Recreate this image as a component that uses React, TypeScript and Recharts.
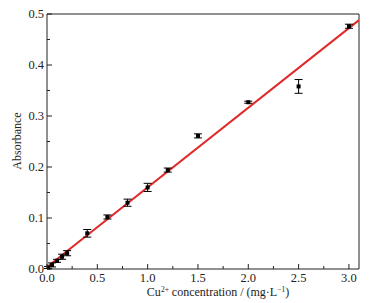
import {
  ComposedChart,
  Scatter,
  Line,
  XAxis,
  YAxis,
  ErrorBar,
  ReferenceLine,
} from "recharts";

// concentration (mg/L), absorbance, error (±)
const concentrations = [0.01, 0.05, 0.1, 0.15, 0.2, 0.4, 0.6, 0.8, 1.0, 1.2, 1.5, 2.0, 2.5, 3.0];
const absorbances = [0.003, 0.008, 0.016, 0.024, 0.031, 0.07, 0.102, 0.13, 0.16, 0.194, 0.261, 0.327, 0.358, 0.476];
const errors = [0.002, 0.004, 0.003, 0.005, 0.005, 0.0075, 0.004, 0.007, 0.008, 0.004, 0.004, 0.002, 0.0135, 0.004];

// fitted line end points
const fitX = [0, 3.1];
const fitY = [0.004, 0.488];

const xTicks = [0, 0.25, 0.5, 0.75, 1, 1.25, 1.5, 1.75, 2, 2.25, 2.5, 2.75, 3];
const yTicks = [0, 0.05, 0.1, 0.15, 0.2, 0.25, 0.3, 0.35, 0.4, 0.45, 0.5];

const points = concentrations.map((c, i) => ({ x: c, y: absorbances[i], err: errors[i] }));
const fit = fitX.map((x, i) => ({ x, fy: fitY[i] }));

const FONT = "'Liberation Serif', 'Times New Roman', serif";
const AXIS = "#222";

const isMajor = (v: number, step: number) => Math.abs(v / step - Math.round(v / step)) < 1e-6;

function XTick(props: any) {
  const { x, y, payload } = props;
  const major = isMajor(payload.value, 0.5);
  const axisY = y - 4;
  return (
    <g>
      <line x1={x} x2={x} y1={axisY} y2={axisY - (major ? 5 : 3)} stroke={AXIS} />
      {major && (
        <text x={x} y={axisY + 13} textAnchor="middle" fontSize={12.5} fontFamily={FONT} fill="#222">
          {payload.value.toFixed(1)}
        </text>
      )}
    </g>
  );
}

function YTick(props: any) {
  const { x, y, payload } = props;
  const major = isMajor(payload.value, 0.1);
  const axisX = x + 3;
  return (
    <g>
      <line x1={axisX} x2={axisX + (major ? 5 : 3)} y1={y} y2={y} stroke={AXIS} />
      {major && (
        <text x={axisX - 3} y={y + 3.5} textAnchor="end" fontSize={12.5} fontFamily={FONT} fill="#222">
          {payload.value.toFixed(1)}
        </text>
      )}
    </g>
  );
}

const Square = (props: any) => {
  const { cx, cy } = props;
  return <rect x={cx - 2} y={cy - 2} width={4} height={4} fill="#000" />;
};

export default function App() {
  return (
    <div style={{ position: "absolute", left: 0, top: 0, background: "#fff" }}>
      <ComposedChart width={383} height={303} margin={{ top: 14, right: 24, bottom: 0, left: 0 }}>
        <XAxis
          xAxisId="main"
          type="number"
          dataKey="x"
          domain={[0, 3.1]}
          ticks={xTicks}
          interval={0}
          tickLine={false}
          tickSize={0}
          tickMargin={4}
          tick={<XTick />}
          height={34}
          stroke={AXIS}
          allowDataOverflow
          label={{
            content: () => (
              <text x={218} y={296} textAnchor="middle" fontSize={12} fontFamily={FONT} fill="#222">
                Cu
                <tspan fontSize={7.5} dy={-4}>2+</tspan>
                <tspan dy={4}> concentration / (mg·L</tspan>
                <tspan fontSize={7.5} dy={-4}>−1</tspan>
                <tspan dy={4}>)</tspan>
              </text>
            ),
          }}
        />
        <YAxis
          yAxisId="main"
          type="number"
          domain={[0, 0.5]}
          ticks={yTicks}
          interval={0}
          tickLine={false}
          tickSize={0}
          tickMargin={3}
          tick={<YTick />}
          width={47}
          stroke={AXIS}
          label={{
            content: () => (
              <text
                x={21}
                y={141}
                textAnchor="middle"
                fontSize={12}
                fontFamily={FONT}
                fill="#222"
                transform="rotate(-90 21 141)"
              >
                Absorbance
              </text>
            ),
          }}
        />
        <ReferenceLine xAxisId="main" yAxisId="main" y={0.5} stroke={AXIS} strokeWidth={1} ifOverflow="extendDomain" />
        <ReferenceLine xAxisId="main" yAxisId="main" x={3.1} stroke={AXIS} strokeWidth={1} ifOverflow="extendDomain" />
        <Line
          xAxisId="main"
          yAxisId="main"
          data={fit}
          dataKey="fy"
          stroke="#e02a2a"
          strokeWidth={2}
          dot={false}
          isAnimationActive={false}
        />
        <Scatter
          xAxisId="main"
          yAxisId="main"
          data={points}
          dataKey="y"
          shape={<Square />}
          isAnimationActive={false}
        >
          <ErrorBar dataKey="err" direction="y" width={4} stroke="#000" strokeWidth={1} isAnimationActive={false} />
        </Scatter>
      </ComposedChart>
    </div>
  );
}
